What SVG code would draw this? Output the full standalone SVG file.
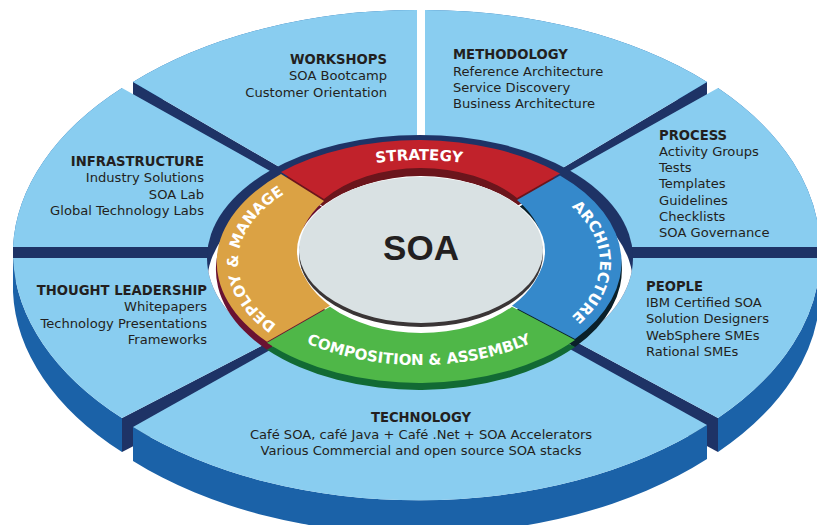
<svg xmlns="http://www.w3.org/2000/svg" width="817" height="525" viewBox="0 0 817 525">
<style>
.face{fill:#89cdf0}
.rim{fill:#1b62a8}
.wall{fill:#1e3366}
.t{font-family:"DejaVu Sans",Verdana,sans-serif;font-size:13.1px;fill:#231f20}
.h{font-weight:bold;font-size:13.2px}
.rl{font-family:"DejaVu Sans",Verdana,sans-serif;font-size:15px;font-weight:bold;fill:#ffffff}
</style>
<defs>
<path id="pTop" d="M238,262 A181,102 0 0 1 600,262"/>
<path id="pLeft" d="M419,364 A181,102 0 0 1 419,160"/>
<path id="pRight" d="M419,160 A181,102 0 0 1 419,364"/>
<path id="pBot" d="M238,263 A181,102 0 0 0 600,263"/>
<clipPath id="holeClip"><ellipse cx="420" cy="258" rx="213" ry="123"/></clipPath>
</defs>
<rect width="817" height="525" fill="#ffffff"/>

<g id="workshops">
<path class="rim" d="M133,82 A398,242 0 0 1 417,10 L417,44 A398,242 0 0 0 133,116 Z"/>
<path class="wall" d="M417,247 L133,82 L133,116 L417,281 Z"/>
<path class="face" d="M417,247 L133,82 A398,242 0 0 1 417,10 Z"/>
<text class="t" text-anchor="end"><tspan class="h" x="387" y="64">WORKSHOPS</tspan><tspan x="387" y="80.3">SOA Bootcamp</tspan><tspan x="387" y="96.6">Customer Orientation</tspan></text>
</g>

<g id="methodology">
<path class="rim" d="M425,10 A398,242 0 0 1 707,82 L707,116 A398,242 0 0 0 425,44 Z"/>
<path class="wall" d="M425,250 L707,82 L707,116 L425,284 Z"/>
<path class="face" d="M425,250 L425,10 A398,242 0 0 1 707,82 Z"/>
<text class="t"><tspan class="h" x="453" y="59">METHODOLOGY</tspan><tspan x="453" y="75.5">Reference Architecture</tspan><tspan x="453" y="91.7">Service Discovery</tspan><tspan x="453" y="107.7">Business Architecture</tspan></text>
</g>

<g id="infrastructure">
<path class="rim" d="M122,88 A398,242 0 0 0 13,247 L13,281 A398,242 0 0 1 122,122 Z"/>
<path class="wall" d="M13,247 L420,247 L420,281 L13,281 Z"/>
<path class="face" d="M420,255 L122,88 A398,242 0 0 0 13,247 L420,247 Z"/>
<text class="t" text-anchor="end"><tspan class="h" x="204" y="166">INFRASTRUCTURE</tspan><tspan x="204" y="182.3">Industry Solutions</tspan><tspan x="204" y="198.6">SOA Lab</tspan><tspan x="204" y="215">Global Technology Labs</tspan></text>
</g>

<g id="process">
<path class="rim" d="M718,88 A398,242 0 0 1 820,247 L820,281 A398,242 0 0 0 718,122 Z"/>
<path class="wall" d="M420,247 L820,247 L820,281 L420,281 Z"/>
<path class="face" d="M420,255 L718,88 A398,242 0 0 1 820,247 L420,247 Z"/>
<text class="t"><tspan class="h" x="659" y="139.5">PROCESS</tspan><tspan x="659" y="155.8">Activity Groups</tspan><tspan x="659" y="172.1">Tests</tspan><tspan x="659" y="188.4">Templates</tspan><tspan x="659" y="204.7">Guidelines</tspan><tspan x="659" y="221">Checklists</tspan><tspan x="659" y="237.3">SOA Governance</tspan></text>
</g>

<g id="thought-leadership">
<path class="rim" d="M13,258 A398,242 0 0 0 122,418 L122,452 A398,242 0 0 1 13,292 Z"/>
<path class="wall" d="M122,418 L420,264 L420,298 L122,452 Z"/>
<path class="face" d="M420,258 L13,258 A398,242 0 0 0 122,418 L420,264 Z"/>
<text class="t" text-anchor="end"><tspan class="h" x="207" y="295">THOUGHT LEADERSHIP</tspan><tspan x="207" y="311.3">Whitepapers</tspan><tspan x="207" y="327.6">Technology Presentations</tspan><tspan x="207" y="344">Frameworks</tspan></text>
</g>

<g id="people">
<path class="rim" d="M820,258 A398,242 0 0 1 718,418 L718,452 A398,242 0 0 0 820,292 Z"/>
<path class="wall" d="M420,258 L718,418 L718,452 L420,292 Z"/>
<path class="face" d="M420,258 L820,258 A398,242 0 0 1 718,418 Z"/>
<text class="t"><tspan class="h" x="646" y="290.7">PEOPLE</tspan><tspan x="646" y="307">IBM Certified SOA</tspan><tspan x="646" y="323.3">Solution Designers</tspan><tspan x="646" y="339.6">WebSphere SMEs</tspan><tspan x="646" y="356">Rational SMEs</tspan></text>
</g>

<g id="technology">
<path class="rim" d="M133,427 A398,242 0 0 0 707,425 L707,459 A398,242 0 0 1 133,461 Z"/>
<path class="face" d="M420,266 L133,427 A398,242 0 0 0 707,425 Z"/>
<text class="t" text-anchor="middle"><tspan class="h" x="421" y="422">TECHNOLOGY</tspan><tspan x="421" y="438.5">Café SOA, café Java + Café .Net + SOA Accelerators</tspan><tspan x="421" y="455">Various Commercial and open source SOA stacks</tspan></text>
</g>

<g id="ring-hole">
<ellipse cx="420" cy="258" rx="213" ry="123" fill="#1e3366"/>
<ellipse cx="420" cy="284" rx="213" ry="123" fill="#ffffff" clip-path="url(#holeClip)"/>
</g>

<g id="strategy">
<path transform="translate(0,8)" fill="#6b151c" d="M281,172 A204,121 0 0 1 560,173.6 L517,198 A124,82 0 0 0 324,199 Z"/>
<path fill="#c1222b" d="M281,172 A204,121 0 0 1 560,173.6 L517,198 A124,82 0 0 0 324,199 Z"/>
<text class="rl"><textPath href="#pTop" startOffset="50%" text-anchor="middle">STRATEGY</textPath></text>
</g>

<g id="deploy-manage">
<path transform="translate(0,8)" fill="#6a1232" d="M267,341.7 A204,121 0 0 1 281,173 L324,200 A124,82 0 0 0 330,305.7 Z"/>
<path fill="#dba244" d="M267,341.7 A204,121 0 0 1 281,174 L324,201 A124,82 0 0 0 330,305.7 Z"/>
<text class="rl"><textPath href="#pLeft" startOffset="51%" text-anchor="middle">DEPLOY &amp; MANAGE</textPath></text>
</g>

<g id="architecture">
<path transform="translate(0,8)" fill="#0a2029" d="M560,175 A204,121 0 0 1 575,339 L512,305.7 A124,82 0 0 0 517,200 Z"/>
<path fill="#3589cb" d="M560,175.5 A204,121 0 0 1 575,339 L512,305.7 A124,82 0 0 0 517,200 Z"/>
<text class="rl"><textPath href="#pRight" startOffset="50%" text-anchor="middle">ARCHITECTURE</textPath></text>
</g>

<g id="composition-assembly">
<path transform="translate(0,7)" fill="#126a34" d="M575,340 A204,121 0 0 1 267,342.7 L330,306.7 A124,82 0 0 0 512,306.7 Z"/>
<path fill="#4fb748" d="M575,340 A204,121 0 0 1 267,342.7 L330,306.7 A124,82 0 0 0 512,306.7 Z"/>
<text class="rl"><textPath href="#pBot" startOffset="50%" text-anchor="middle">COMPOSITION &amp; ASSEMBLY</textPath></text>
</g>

<g id="soa">
<ellipse cx="421" cy="251" rx="124" ry="74" fill="#ffffff"/>
<ellipse cx="421" cy="254" rx="122" ry="73" fill="#3a3536"/>
<ellipse cx="421" cy="250" rx="122" ry="73" fill="#d9e1e3"/>
<text x="421" y="260" text-anchor="middle" font-family="'Liberation Sans',Arial,sans-serif" font-weight="bold" font-size="35" fill="#231f20">SOA</text>
</g>
</svg>
